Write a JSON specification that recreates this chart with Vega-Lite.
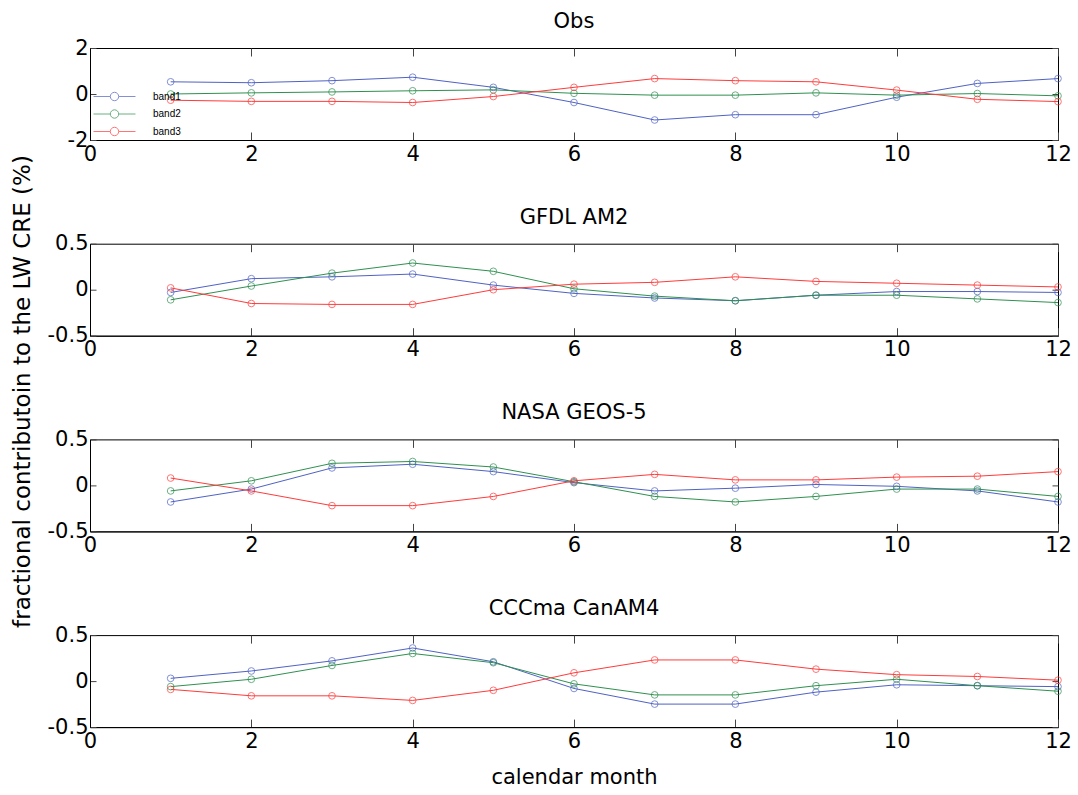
{
  "$schema": "https://vega.github.io/schema/vega-lite/v6.json",
  "autosize": "pad",
  "padding": {"top": 10, "left": 10, "right": 14, "bottom": 6},
  "background": "white",
  "datasets": {
    "d": [
      {"panel":"Obs","band":"band1","month":1,"value":0.53},{"panel":"Obs","band":"band1","month":2,"value":0.49},{"panel":"Obs","band":"band1","month":3,"value":0.58},{"panel":"Obs","band":"band1","month":4,"value":0.73},{"panel":"Obs","band":"band1","month":5,"value":0.29},{"panel":"Obs","band":"band1","month":6,"value":-0.37},{"panel":"Obs","band":"band1","month":7,"value":-1.13},{"panel":"Obs","band":"band1","month":8,"value":-0.90},{"panel":"Obs","band":"band1","month":9,"value":-0.90},{"panel":"Obs","band":"band1","month":10,"value":-0.14},{"panel":"Obs","band":"band1","month":11,"value":0.46},{"panel":"Obs","band":"band1","month":12,"value":0.67},
      {"panel":"Obs","band":"band2","month":1,"value":0.00},{"panel":"Obs","band":"band2","month":2,"value":0.05},{"panel":"Obs","band":"band2","month":3,"value":0.09},{"panel":"Obs","band":"band2","month":4,"value":0.14},{"panel":"Obs","band":"band2","month":5,"value":0.18},{"panel":"Obs","band":"band2","month":6,"value":0.03},{"panel":"Obs","band":"band2","month":7,"value":-0.05},{"panel":"Obs","band":"band2","month":8,"value":-0.05},{"panel":"Obs","band":"band2","month":9,"value":0.05},{"panel":"Obs","band":"band2","month":10,"value":-0.05},{"panel":"Obs","band":"band2","month":11,"value":0.02},{"panel":"Obs","band":"band2","month":12,"value":-0.08},
      {"panel":"Obs","band":"band3","month":1,"value":-0.27},{"panel":"Obs","band":"band3","month":2,"value":-0.32},{"panel":"Obs","band":"band3","month":3,"value":-0.32},{"panel":"Obs","band":"band3","month":4,"value":-0.37},{"panel":"Obs","band":"band3","month":5,"value":-0.11},{"panel":"Obs","band":"band3","month":6,"value":0.29},{"panel":"Obs","band":"band3","month":7,"value":0.67},{"panel":"Obs","band":"band3","month":8,"value":0.58},{"panel":"Obs","band":"band3","month":9,"value":0.53},{"panel":"Obs","band":"band3","month":10,"value":0.17},{"panel":"Obs","band":"band3","month":11,"value":-0.23},{"panel":"Obs","band":"band3","month":12,"value":-0.33},
      {"panel":"GFDL AM2","band":"band1","month":1,"value":-0.03},{"panel":"GFDL AM2","band":"band1","month":2,"value":0.12},{"panel":"GFDL AM2","band":"band1","month":3,"value":0.14},{"panel":"GFDL AM2","band":"band1","month":4,"value":0.17},{"panel":"GFDL AM2","band":"band1","month":5,"value":0.05},{"panel":"GFDL AM2","band":"band1","month":6,"value":-0.04},{"panel":"GFDL AM2","band":"band1","month":7,"value":-0.09},{"panel":"GFDL AM2","band":"band1","month":8,"value":-0.12},{"panel":"GFDL AM2","band":"band1","month":9,"value":-0.06},{"panel":"GFDL AM2","band":"band1","month":10,"value":-0.02},{"panel":"GFDL AM2","band":"band1","month":11,"value":-0.02},{"panel":"GFDL AM2","band":"band1","month":12,"value":-0.03},
      {"panel":"GFDL AM2","band":"band2","month":1,"value":-0.11},{"panel":"GFDL AM2","band":"band2","month":2,"value":0.04},{"panel":"GFDL AM2","band":"band2","month":3,"value":0.18},{"panel":"GFDL AM2","band":"band2","month":4,"value":0.29},{"panel":"GFDL AM2","band":"band2","month":5,"value":0.20},{"panel":"GFDL AM2","band":"band2","month":6,"value":0.01},{"panel":"GFDL AM2","band":"band2","month":7,"value":-0.07},{"panel":"GFDL AM2","band":"band2","month":8,"value":-0.12},{"panel":"GFDL AM2","band":"band2","month":9,"value":-0.06},{"panel":"GFDL AM2","band":"band2","month":10,"value":-0.06},{"panel":"GFDL AM2","band":"band2","month":11,"value":-0.10},{"panel":"GFDL AM2","band":"band2","month":12,"value":-0.14},
      {"panel":"GFDL AM2","band":"band3","month":1,"value":0.02},{"panel":"GFDL AM2","band":"band3","month":2,"value":-0.15},{"panel":"GFDL AM2","band":"band3","month":3,"value":-0.16},{"panel":"GFDL AM2","band":"band3","month":4,"value":-0.16},{"panel":"GFDL AM2","band":"band3","month":5,"value":0.00},{"panel":"GFDL AM2","band":"band3","month":6,"value":0.06},{"panel":"GFDL AM2","band":"band3","month":7,"value":0.08},{"panel":"GFDL AM2","band":"band3","month":8,"value":0.14},{"panel":"GFDL AM2","band":"band3","month":9,"value":0.09},{"panel":"GFDL AM2","band":"band3","month":10,"value":0.07},{"panel":"GFDL AM2","band":"band3","month":11,"value":0.05},{"panel":"GFDL AM2","band":"band3","month":12,"value":0.03},
      {"panel":"NASA GEOS-5","band":"band1","month":1,"value":-0.18},{"panel":"NASA GEOS-5","band":"band1","month":2,"value":-0.04},{"panel":"NASA GEOS-5","band":"band1","month":3,"value":0.19},{"panel":"NASA GEOS-5","band":"band1","month":4,"value":0.23},{"panel":"NASA GEOS-5","band":"band1","month":5,"value":0.15},{"panel":"NASA GEOS-5","band":"band1","month":6,"value":0.03},{"panel":"NASA GEOS-5","band":"band1","month":7,"value":-0.06},{"panel":"NASA GEOS-5","band":"band1","month":8,"value":-0.03},{"panel":"NASA GEOS-5","band":"band1","month":9,"value":0.01},{"panel":"NASA GEOS-5","band":"band1","month":10,"value":-0.01},{"panel":"NASA GEOS-5","band":"band1","month":11,"value":-0.06},{"panel":"NASA GEOS-5","band":"band1","month":12,"value":-0.18},
      {"panel":"NASA GEOS-5","band":"band2","month":1,"value":-0.06},{"panel":"NASA GEOS-5","band":"band2","month":2,"value":0.05},{"panel":"NASA GEOS-5","band":"band2","month":3,"value":0.24},{"panel":"NASA GEOS-5","band":"band2","month":4,"value":0.26},{"panel":"NASA GEOS-5","band":"band2","month":5,"value":0.20},{"panel":"NASA GEOS-5","band":"band2","month":6,"value":0.04},{"panel":"NASA GEOS-5","band":"band2","month":7,"value":-0.12},{"panel":"NASA GEOS-5","band":"band2","month":8,"value":-0.18},{"panel":"NASA GEOS-5","band":"band2","month":9,"value":-0.12},{"panel":"NASA GEOS-5","band":"band2","month":10,"value":-0.04},{"panel":"NASA GEOS-5","band":"band2","month":11,"value":-0.04},{"panel":"NASA GEOS-5","band":"band2","month":12,"value":-0.12},
      {"panel":"NASA GEOS-5","band":"band3","month":1,"value":0.08},{"panel":"NASA GEOS-5","band":"band3","month":2,"value":-0.06},{"panel":"NASA GEOS-5","band":"band3","month":3,"value":-0.22},{"panel":"NASA GEOS-5","band":"band3","month":4,"value":-0.22},{"panel":"NASA GEOS-5","band":"band3","month":5,"value":-0.12},{"panel":"NASA GEOS-5","band":"band3","month":6,"value":0.05},{"panel":"NASA GEOS-5","band":"band3","month":7,"value":0.12},{"panel":"NASA GEOS-5","band":"band3","month":8,"value":0.06},{"panel":"NASA GEOS-5","band":"band3","month":9,"value":0.06},{"panel":"NASA GEOS-5","band":"band3","month":10,"value":0.09},{"panel":"NASA GEOS-5","band":"band3","month":11,"value":0.10},{"panel":"NASA GEOS-5","band":"band3","month":12,"value":0.15},
      {"panel":"CCCma CanAM4","band":"band1","month":1,"value":0.03},{"panel":"CCCma CanAM4","band":"band1","month":2,"value":0.11},{"panel":"CCCma CanAM4","band":"band1","month":3,"value":0.22},{"panel":"CCCma CanAM4","band":"band1","month":4,"value":0.36},{"panel":"CCCma CanAM4","band":"band1","month":5,"value":0.21},{"panel":"CCCma CanAM4","band":"band1","month":6,"value":-0.08},{"panel":"CCCma CanAM4","band":"band1","month":7,"value":-0.25},{"panel":"CCCma CanAM4","band":"band1","month":8,"value":-0.25},{"panel":"CCCma CanAM4","band":"band1","month":9,"value":-0.12},{"panel":"CCCma CanAM4","band":"band1","month":10,"value":-0.04},{"panel":"CCCma CanAM4","band":"band1","month":11,"value":-0.05},{"panel":"CCCma CanAM4","band":"band1","month":12,"value":-0.06},
      {"panel":"CCCma CanAM4","band":"band2","month":1,"value":-0.06},{"panel":"CCCma CanAM4","band":"band2","month":2,"value":0.02},{"panel":"CCCma CanAM4","band":"band2","month":3,"value":0.17},{"panel":"CCCma CanAM4","band":"band2","month":4,"value":0.30},{"panel":"CCCma CanAM4","band":"band2","month":5,"value":0.20},{"panel":"CCCma CanAM4","band":"band2","month":6,"value":-0.03},{"panel":"CCCma CanAM4","band":"band2","month":7,"value":-0.15},{"panel":"CCCma CanAM4","band":"band2","month":8,"value":-0.15},{"panel":"CCCma CanAM4","band":"band2","month":9,"value":-0.05},{"panel":"CCCma CanAM4","band":"band2","month":10,"value":0.02},{"panel":"CCCma CanAM4","band":"band2","month":11,"value":-0.05},{"panel":"CCCma CanAM4","band":"band2","month":12,"value":-0.11},
      {"panel":"CCCma CanAM4","band":"band3","month":1,"value":-0.09},{"panel":"CCCma CanAM4","band":"band3","month":2,"value":-0.16},{"panel":"CCCma CanAM4","band":"band3","month":3,"value":-0.16},{"panel":"CCCma CanAM4","band":"band3","month":4,"value":-0.21},{"panel":"CCCma CanAM4","band":"band3","month":5,"value":-0.10},{"panel":"CCCma CanAM4","band":"band3","month":6,"value":0.09},{"panel":"CCCma CanAM4","band":"band3","month":7,"value":0.23},{"panel":"CCCma CanAM4","band":"band3","month":8,"value":0.23},{"panel":"CCCma CanAM4","band":"band3","month":9,"value":0.13},{"panel":"CCCma CanAM4","band":"band3","month":10,"value":0.07},{"panel":"CCCma CanAM4","band":"band3","month":11,"value":0.05},{"panel":"CCCma CanAM4","band":"band3","month":12,"value":0.01}
    ]
  },
  "data": {"name": "d"},
  "spacing": 103.7,
  "bounds": "flush",
  "resolve": {"scale": {"color": "independent"}, "legend": {"color": "independent"}},
  "vconcat": [
    {
      "title": {"text": "Obs"},
      "width": 968, "height": 92,
      "transform": [{"filter": "datum.panel === 'Obs'"}],
      "resolve": {"axis": {"x": "independent", "y": "independent"}},
      "layer": [
        {
          "mark": {"type": "line", "strokeWidth": 1},
          "encoding": {
            "x": {"field": "month", "type": "quantitative", "scale": {"domain": [0, 12], "nice": false}, "axis": {"orient": "bottom", "values": [0,2,4,6,8,10,12], "title": null}},
            "y": {"field": "value", "type": "quantitative", "scale": {"domain": [-2, 2], "nice": false}, "axis": {"orient": "left", "values": [-2,0,2], "format": "d", "labelExpr": "replace(datum.label, '\u2212', '-')", "title": "fractional contributoin to the LW CRE (%)", "titleX": -68, "titleY": 343, "titleAngle": 270, "titleAlign": "center", "titleBaseline": "middle", "titleFontSize": 23}},
            "color": {"field": "band", "type": "nominal", "scale": {"domain": ["band1","band2","band3"], "range": ["#4f62c4","#2f9050","#ff3b3b"]},
              "legend": {"orient": "none", "legendX": 15, "legendY": 39, "title": null, "symbolType": "M-2.4,0H-0.48M0.48,0H2.4M0.48,0A0.48,0.48,0,1,1,-0.48,0A0.48,0.48,0,1,1,0.48,0", "symbolSize": 306, "symbolStrokeWidth": 1, "symbolFillColor": "transparent", "labelFontSize": 10, "labelFont": "Liberation Sans", "labelOffset": 29, "rowPadding": 1.5, "padding": 0}}
          }
        },
        {
          "mark": {"type": "point", "filled": false, "size": 45, "strokeWidth": 1},
          "encoding": {
            "x": {"field": "month", "type": "quantitative", "axis": {"orient": "top", "values": [0,2,4,6,8,10,12], "labels": false, "domain": false, "title": null}},
            "y": {"field": "value", "type": "quantitative", "axis": {"orient": "right", "values": [-2,0,2], "labels": false, "domain": false, "title": null}},
            "color": {"field": "band", "type": "nominal",
              "legend": {"orient": "none", "legendX": 15, "legendY": 39, "title": null, "symbolType": "M-2.4,0H-0.48M0.48,0H2.4M0.48,0A0.48,0.48,0,1,1,-0.48,0A0.48,0.48,0,1,1,0.48,0", "symbolSize": 306, "symbolStrokeWidth": 1, "symbolFillColor": "transparent", "labelFontSize": 10, "labelFont": "Liberation Sans", "labelOffset": 29, "rowPadding": 1.5, "padding": 0}}
          }
        }
      ]
    },
    {
      "title": {"text": "GFDL AM2"},
      "width": 968, "height": 92,
      "transform": [{"filter": "datum.panel === 'GFDL AM2'"}],
      "resolve": {"axis": {"x": "independent", "y": "independent"}},
      "layer": [
        {
          "mark": {"type": "line", "strokeWidth": 1},
          "encoding": {
            "x": {"field": "month", "type": "quantitative", "scale": {"domain": [0, 12], "nice": false}, "axis": {"orient": "bottom", "values": [0,2,4,6,8,10,12], "title": null}},
            "y": {"field": "value", "type": "quantitative", "scale": {"domain": [-0.5, 0.5], "nice": false}, "axis": {"orient": "left", "values": [-0.5,0,0.5], "format": "~g", "labelExpr": "replace(datum.label, '\u2212', '-')", "title": null}},
            "color": {"field": "band", "type": "nominal", "scale": {"domain": ["band1","band2","band3"], "range": ["#4f62c4","#2f9050","#ff3b3b"]}, "legend": null}
          }
        },
        {
          "mark": {"type": "point", "filled": false, "size": 45, "strokeWidth": 1},
          "encoding": {
            "x": {"field": "month", "type": "quantitative", "axis": {"orient": "top", "values": [0,2,4,6,8,10,12], "labels": false, "domain": false, "title": null}},
            "y": {"field": "value", "type": "quantitative", "axis": {"orient": "right", "values": [-0.5,0,0.5], "labels": false, "domain": false, "title": null}},
            "color": {"field": "band", "type": "nominal", "legend": null}
          }
        }
      ]
    },
    {
      "title": {"text": "NASA GEOS-5"},
      "width": 968, "height": 92,
      "transform": [{"filter": "datum.panel === 'NASA GEOS-5'"}],
      "resolve": {"axis": {"x": "independent", "y": "independent"}},
      "layer": [
        {
          "mark": {"type": "line", "strokeWidth": 1},
          "encoding": {
            "x": {"field": "month", "type": "quantitative", "scale": {"domain": [0, 12], "nice": false}, "axis": {"orient": "bottom", "values": [0,2,4,6,8,10,12], "title": null}},
            "y": {"field": "value", "type": "quantitative", "scale": {"domain": [-0.5, 0.5], "nice": false}, "axis": {"orient": "left", "values": [-0.5,0,0.5], "format": "~g", "labelExpr": "replace(datum.label, '\u2212', '-')", "title": null}},
            "color": {"field": "band", "type": "nominal", "scale": {"domain": ["band1","band2","band3"], "range": ["#4f62c4","#2f9050","#ff3b3b"]}, "legend": null}
          }
        },
        {
          "mark": {"type": "point", "filled": false, "size": 45, "strokeWidth": 1},
          "encoding": {
            "x": {"field": "month", "type": "quantitative", "axis": {"orient": "top", "values": [0,2,4,6,8,10,12], "labels": false, "domain": false, "title": null}},
            "y": {"field": "value", "type": "quantitative", "axis": {"orient": "right", "values": [-0.5,0,0.5], "labels": false, "domain": false, "title": null}},
            "color": {"field": "band", "type": "nominal", "legend": null}
          }
        }
      ]
    },
    {
      "title": {"text": "CCCma CanAM4"},
      "width": 968, "height": 92,
      "transform": [{"filter": "datum.panel === 'CCCma CanAM4'"}],
      "resolve": {"axis": {"x": "independent", "y": "independent"}},
      "layer": [
        {
          "mark": {"type": "line", "strokeWidth": 1},
          "encoding": {
            "x": {"field": "month", "type": "quantitative", "scale": {"domain": [0, 12], "nice": false}, "axis": {"orient": "bottom", "values": [0,2,4,6,8,10,12], "title": "calendar month", "titlePadding": 15}},
            "y": {"field": "value", "type": "quantitative", "scale": {"domain": [-0.5, 0.5], "nice": false}, "axis": {"orient": "left", "values": [-0.5,0,0.5], "format": "~g", "labelExpr": "replace(datum.label, '\u2212', '-')", "title": null}},
            "color": {"field": "band", "type": "nominal", "scale": {"domain": ["band1","band2","band3"], "range": ["#4f62c4","#2f9050","#ff3b3b"]}, "legend": null}
          }
        },
        {
          "mark": {"type": "point", "filled": false, "size": 45, "strokeWidth": 1},
          "encoding": {
            "x": {"field": "month", "type": "quantitative", "axis": {"orient": "top", "values": [0,2,4,6,8,10,12], "labels": false, "domain": false, "title": null}},
            "y": {"field": "value", "type": "quantitative", "axis": {"orient": "right", "values": [-0.5,0,0.5], "labels": false, "domain": false, "title": null}},
            "color": {"field": "band", "type": "nominal", "legend": null}
          }
        }
      ]
    }
  ],
  "config": {
    "font": "DejaVu Sans",
    "view": {"stroke": "#000000", "strokeWidth": 1},
    "title": {"font": "DejaVu Sans", "fontSize": 21, "fontWeight": "normal", "color": "#000000", "offset": 5, "anchor": "middle", "frame": "group"},
    "axis": {"grid": false, "domainColor": "#000000", "tickColor": "#444444", "labelFont": "DejaVu Sans", "labelFontSize": 21, "labelColor": "#000000", "titleFont": "DejaVu Sans", "titleFontSize": 21, "titleFontWeight": "normal", "titleColor": "#000000"},
    "axisX": {"tickSize": -8, "labelPadding": 11, "labelFlush": false, "titlePadding": 4},
    "axisY": {"tickSize": -6, "labelPadding": 8}
  }
}
